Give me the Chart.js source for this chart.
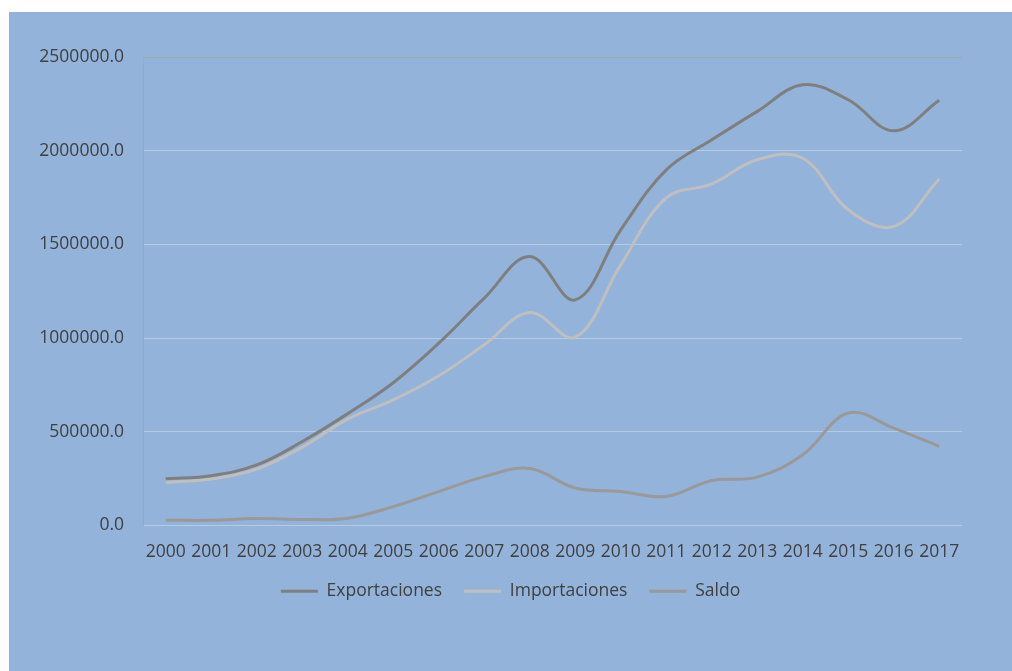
<!DOCTYPE html>
<html>
<head>
<meta charset="utf-8">
<script src="https://cdn.jsdelivr.net/npm/chart.js@4/dist/chart.umd.min.js"></script>
<style>
    html, body { margin: 0; padding: 0; background: #ffffff; }
    #wrap {
        position: absolute; left: 9px; top: 12px;
        width: 1003px; height: 659px;
        background: #93b3da;
    }
</style>
</head>
<body>
<div id="wrap"><canvas id="tradeChart"></canvas></div>
<script>
// Exportaciones / Importaciones / Saldo, 2000-2017
const years = ['2000', '2001', '2002', '2003', '2004', '2005', '2006', '2007', '2008',
    '2009', '2010', '2011', '2012', '2013', '2014', '2015', '2016', '2017'];

const exportaciones = [250000, 266000, 323000, 448000, 597000, 762000, 973000, 1213000, 1435000,
    1204000, 1578000, 1898000, 2058000, 2210000, 2352000, 2272000, 2106000, 2269000];

const importaciones = [229000, 248000, 301000, 418000, 568000, 670000, 799000, 964000, 1137000,
    1005000, 1391000, 1748000, 1823000, 1952000, 1960000, 1685000, 1596000, 1849000];

const saldo = [28000, 28000, 37000, 32000, 39000, 101000, 181000, 261000, 304000,
    200000, 181000, 155000, 240000, 258000, 377000, 600000, 520000, 422000];

const TEXT_COLOR = '#404040';
const FONT = { family: '"Open Sans", "Noto Sans", sans-serif', size: 17.5 };

function line(label, data, color) {
    return {
        label: label,
        data: data,
        borderColor: color,
        backgroundColor: color,
        borderWidth: 3,
        pointRadius: 0,
        tension: 0.38,
        fill: false
    };
}

new Chart(document.getElementById('tradeChart'), {
    type: 'line',
    data: {
        labels: years,
        datasets: [
            line('Exportaciones', exportaciones, '#7f7f7f'),
            line('Importaciones', importaciones, '#bfbfbf'),
            line('Saldo', saldo, '#999999')
        ]
    },
    options: {
        responsive: true,
        maintainAspectRatio: false,
        animation: false,
        layout: { padding: { top: 45, right: 0, bottom: 61, left: 0 } },
        plugins: {
            tooltip: { enabled: false },
            legend: {
                position: 'bottom',
                labels: {
                    color: TEXT_COLOR,
                    font: FONT,
                    boxWidth: 37,
                    boxHeight: 3,
                    padding: 22,
                    generateLabels: function (chart) {
                        const items = Chart.defaults.plugins.legend.labels.generateLabels(chart);
                        items.forEach(function (it) { it.lineWidth = 0; });
                        return items;
                    }
                }
            }
        },
        scales: {
            x: {
                offset: true,
                grid: { display: false },
                border: { display: false },
                ticks: { color: TEXT_COLOR, font: FONT, padding: 8, maxRotation: 0, autoSkip: false },
                afterFit: function (axis) { axis.height = 35; }
            },
            y: {
                min: 0,
                max: 2500000,
                border: { display: true, color: '#a6a6a6', width: 1 },
                grid: {
                    drawTicks: false,
                    lineWidth: 1,
                    color: function (ctx) {
                        return ctx.index === 5 ? '#a6a6a6' : 'rgba(210, 220, 235, 0.55)';
                    }
                },
                ticks: {
                    stepSize: 500000,
                    color: TEXT_COLOR,
                    font: FONT,
                    padding: 19,
                    callback: function (v) { return v.toFixed(1); }
                },
                afterFit: function (axis) { axis.width = 134; }
            },
            // empty right-hand margin so the legend stays centred on the whole chart
            spacer: {
                type: 'linear',
                position: 'right',
                grid: { display: false },
                border: { display: false },
                ticks: { display: false },
                afterFit: function (axis) { axis.width = 50; }
            }
        }
    }
});
</script>
</body>
</html>
